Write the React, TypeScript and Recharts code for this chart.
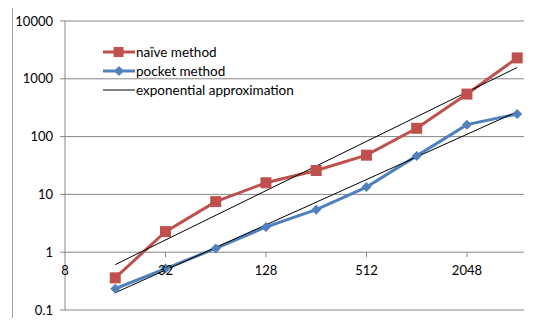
import React from 'react';
import {
  LineChart,
  Line,
  XAxis,
  YAxis,
  CartesianGrid,
  ReferenceDot,
} from 'recharts';

const sizes = [16, 32, 64, 128, 256, 512, 1024, 2048, 4096];
const naiveValues = [0.36, 2.27, 7.5, 15.9, 25.9, 47.7, 139, 544, 2300];
const pocketValues = [0.233, 0.52, 1.16, 2.73, 5.44, 13.4, 46.4, 161, 246];
// trendline endpoints
const upperTrendSizes = [16, 4096];
const upperTrendValues = [0.61, 1570];
const lowerTrendSizes = [16, 4096];
const lowerTrendValues = [0.199, 270];

const xTicks = [8, 32, 128, 512, 2048];
const yTicks = [0.1, 1, 10, 100, 1000, 10000];

const RED = '#C0504D';
const BLUE = '#4F81BD';
const GRID = '#868686';
const FONT = 'Lato, "Open Sans", sans-serif';

const data = sizes.map((n, i) => ({ n, naive: naiveValues[i], pocket: pocketValues[i] }));
const upperTrend = upperTrendSizes.map((n, i) => ({ n, trend: upperTrendValues[i] }));
const lowerTrend = lowerTrendSizes.map((n, i) => ({ n, trend: lowerTrendValues[i] }));

const SquareDot = (props: any) => {
  const { cx, cy, index } = props;
  if (cx == null || cy == null) return null;
  return <rect key={index} x={cx - 5.5} y={cy - 5.5} width={11} height={11} fill={RED} />;
};

const DiamondDot = (props: any) => {
  const { cx, cy, index } = props;
  if (cx == null || cy == null) return null;
  return (
    <path
      key={index}
      d={`M${cx},${cy - 5} L${cx + 5},${cy} L${cx},${cy + 5} L${cx - 5},${cy} Z`}
      fill={BLUE}
    />
  );
};

// x-axis crosses at y = 1, so tick marks and labels hang off that gridline
const XTickAtOne = (label: number) => (props: any) => {
  const { cx, cy } = props;
  if (cx == null || cy == null) return null;
  return (
    <g>
      {label !== 8 && <line x1={cx} y1={cy} x2={cx} y2={cy + 5} stroke={GRID} />}
      <text
        x={cx}
        y={cy + 20}
        textAnchor="middle"
        dominantBaseline="middle"
        fontSize={13}
        fontFamily={FONT}
        fill="#000"
      >
        {label}
      </text>
    </g>
  );
};

function LegendBox() {
  const rows = [
    { label: 'naïve method', color: RED, marker: 'square' },
    { label: 'pocket method', color: BLUE, marker: 'diamond' },
    { label: 'exponential approximation', color: '#000', marker: 'none' },
  ];
  return (
    <div style={{ position: 'absolute', left: 102, top: 42, fontFamily: FONT, fontSize: 13.5 }}>
      {rows.map((r) => (
        <div key={r.label} style={{ display: 'flex', alignItems: 'center', height: 19 }}>
          <svg width={34} height={14}>
            <line
              x1={1}
              y1={7}
              x2={33}
              y2={7}
              stroke={r.color}
              strokeWidth={r.marker === 'none' ? 1 : 3}
            />
            {r.marker === 'square' && <rect x={11.5} y={2} width={10} height={10} fill={RED} />}
            {r.marker === 'diamond' && <path d="M17,2 L22,7 L17,12 L12,7 Z" fill={BLUE} />}
          </svg>
          <span style={{ color: '#000', whiteSpace: 'nowrap' }}>{r.label}</span>
        </div>
      ))}
    </div>
  );
}

export default function App() {
  return (
    <div
      style={{
        position: 'relative',
        width: 545,
        height: 326,
        margin: -8,
        overflow: 'hidden',
        background: '#fff',
      }}
    >
      <div
        style={{
          position: 'absolute',
          left: 12,
          top: 5,
          width: 560,
          height: 340,
          borderLeft: '1px solid #a0a0a0',
          borderTop: '1px solid #a0a0a0',
        }}
      />
      <LineChart
        width={545}
        height={326}
        data={data}
        margin={{ top: 21, right: 21, bottom: 16, left: 0 }}
        style={{ position: 'absolute', left: 0, top: 0 }}
      >
        <CartesianGrid horizontal vertical={false} stroke={GRID} />
        <XAxis
          dataKey="n"
          type="number"
          scale="log"
          domain={[8, 4500]}
          ticks={xTicks}
          allowDataOverflow
          hide
        />
        <YAxis
          type="number"
          scale="log"
          domain={[0.1, 10000]}
          ticks={yTicks}
          allowDataOverflow
          width={65}
          stroke={GRID}
          tickSize={5}
          tickMargin={7}
          tick={{ fill: '#000', fontSize: 13, fontFamily: FONT }}
        />
        <Line
          dataKey="naive"
          stroke={RED}
          strokeWidth={3}
          dot={<SquareDot />}
          isAnimationActive={false}
        />
        <Line
          dataKey="pocket"
          stroke={BLUE}
          strokeWidth={3}
          dot={<DiamondDot />}
          isAnimationActive={false}
        />
        <Line
          data={upperTrend}
          dataKey="trend"
          stroke="#000"
          strokeWidth={1}
          dot={false}
          isAnimationActive={false}
        />
        <Line
          data={lowerTrend}
          dataKey="trend"
          stroke="#000"
          strokeWidth={1}
          dot={false}
          isAnimationActive={false}
        />
        {xTicks.map((t) => (
          <ReferenceDot key={t} x={t} y={1} r={0} shape={XTickAtOne(t)} ifOverflow="visible" />
        ))}
      </LineChart>
      <LegendBox />
    </div>
  );
}
